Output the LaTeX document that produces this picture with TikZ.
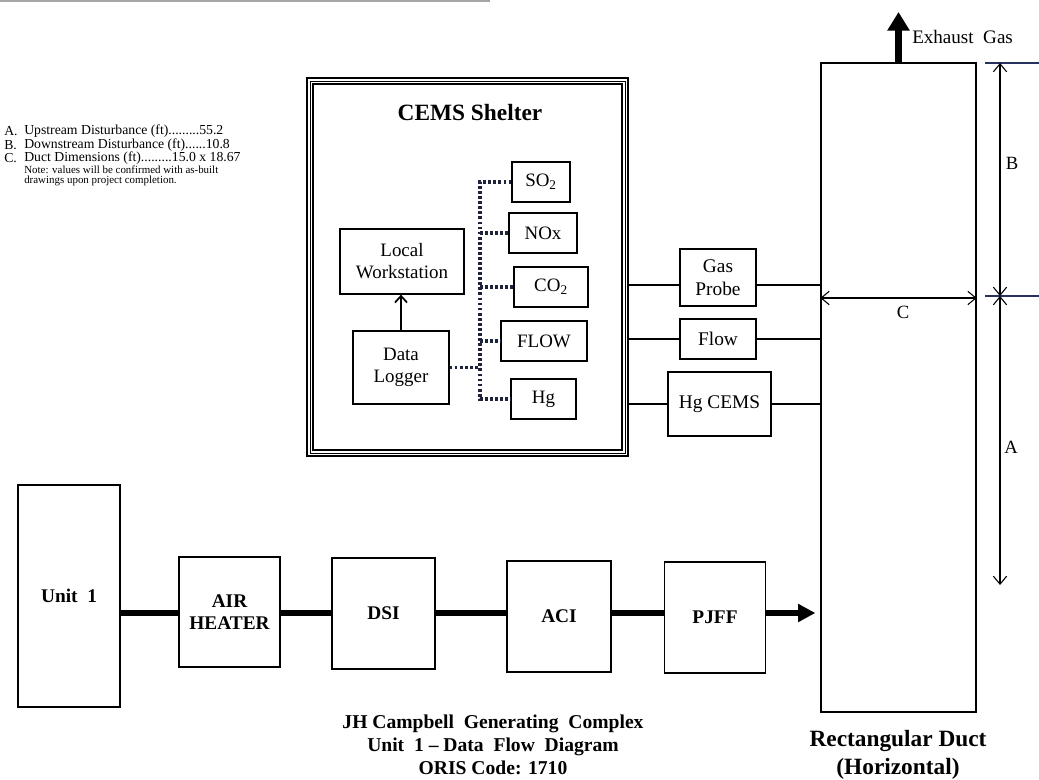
\documentclass[tikz,border=0pt]{standalone}
\usepackage{fontspec}
\setmainfont{Liberation Serif}
\usetikzlibrary{arrows.meta,calc}
\definecolor{dotcol}{RGB}{30,35,60}
\definecolor{tickcol}{RGB}{40,50,95}
\begin{document}
\begin{tikzpicture}[x=0.75pt,y=-0.75pt,
 wh/.style 2 args={minimum width=#1*0.75pt, minimum height=#2*0.75pt},
 box/.style={draw, line width=0.9pt, inner sep=0pt, align=center, font=\fontsize{14.2}{16.5}\selectfont},
 bbox/.style={box, font=\bfseries\fontsize{14.5}{17}\selectfont},
 probe/.style={box, font=\fontsize{14.5}{17}\selectfont},
 conn/.style={line width=0.9pt},
 thickline/.style={line width=5.2pt},
 dots/.style={line width=2.3pt, dash pattern=on 2.1pt off 1.7pt, color=dotcol},
 dim/.style={line width=0.8pt, {Straight Barb[length=6pt,width=10pt]}-{Straight Barb[length=6pt,width=10pt]}},
 tick/.style={line width=0.8pt, color=tickcol},
 note/.style={anchor=west, inner sep=0pt, font=\fontsize{10.3}{12}\selectfont},
 smallnote/.style={anchor=west, inner sep=0pt, font=\fontsize{8.2}{9.5}\selectfont},
 dimlab/.style={font=\fontsize{14}{16}\selectfont}
]
\useasboundingbox (0,0) rectangle (1039,780);

% top scan line
\coordinate (tl1) at (0,1);
\coordinate (tl2) at (490,1);
\draw[gray!70, line width=1.5pt] (tl1) -- (tl2);

% notes
\node[note] (nA) at (4,131) {A.};
\node[note] (nAt) at (24,131) {Upstream Disturbance (ft).........55.2};
\node[note] (nB) at (4,145) {B.};
\node[note] (nBt) at (24,145) {Downstream Disturbance (ft)......10.8};
\node[note] (nC) at (4,158) {C.};
\node[note] (nCt) at (24,158) {Duct Dimensions (ft).........15.0 x 18.67};
\node[smallnote] (n1) at (24,170) {Note: values will be confirmed with as-built};
\node[smallnote] (n2) at (24,181) {drawings upon project completion.};

% CEMS shelter
\node[draw, line width=1.6pt, wh={321}{378}] (sh) at (467.5,267) {};
\draw[line width=0.6pt] ($(sh.south west)+(4,-4)$) rectangle ($(sh.north east)+(-4,4)$);
\draw[line width=1pt] ($(sh.south west)+(7,-7)$) rectangle ($(sh.north east)+(-7,7)$);
\node[font=\bfseries\fontsize{17.5}{20}\selectfont] (title) at (470,113) {CEMS Shelter};

\node[box, wh={124}{65}] (lw) at (402,261.5) {Local\\Workstation};
\node[box, wh={96}{73}] (dl) at (401,367.5) {Data\\Logger};
\draw[line width=1.3pt, -{Straight Barb[length=5pt,width=9pt]}] (dl.north) -- (dl.north |- lw.south);

\node[box, wh={58}{40}] (so2) at (541,182) {SO\textsubscript{2}};
\node[box, wh={68}{40}] (nox) at (543,233) {NOx};
\node[box, wh={74}{40}] (co2) at (551,287) {CO\textsubscript{2}};
\node[box, wh={86}{40}] (flow) at (544,341) {FLOW};
\node[box, wh={65}{40}] (hg) at (543.5,399) {Hg};

\coordinate (bx) at (480,0);
\draw[dots] (so2.west) -- (so2.west -| bx) -- (hg.west -| bx) -- (hg.west);
\draw[dots] (nox.west -| bx) -- (nox.west);
\draw[dots] (co2.west -| bx) -- (co2.west);
\draw[dots] (flow.west -| bx) -- (flow.west);
\draw[dots] (dl.east) -- (dl.east -| bx);

% probes
\node[probe, wh={76}{57}] (gp) at (718,277.5) {Gas\\Probe};
\node[probe, wh={76}{40}] (fl) at (718,339) {Flow};
\node[probe, wh={103}{64}] (hgc) at (719.5,404) {Hg CEMS};

% duct
\node[draw, line width=1pt, wh={155}{649}] (duct) at (898.5,387.5) {};

\coordinate (gy) at (0,285);
\draw[conn] (sh.east |- gy) -- (gp.west |- gy);
\draw[conn] (gp.east |- gy) -- (duct.west |- gy);
\draw[conn] (sh.east |- fl) -- (fl.west);
\draw[conn] (fl.east) -- (fl.east -| duct.west);
\draw[conn] (sh.east |- hgc) -- (hgc.west);
\draw[conn] (hgc.east) -- (hgc.east -| duct.west);

% exhaust
\coordinate (ex) at (898.5,12);
\draw[line width=5.5pt, -{Triangle[length=14pt,width=16pt]}] (duct.north) -- (ex);
\node[anchor=west, inner sep=0pt, font=\fontsize{14.3}{16}\selectfont] (exl) at (912,37) {Exhaust\ \ Gas};

% dimensions
\coordinate (t1a) at (985,63);
\coordinate (t1b) at (1039,63);
\coordinate (t2a) at (985,296);
\coordinate (t2b) at (1039,296);
\draw[tick] (t1a) -- (t1b);
\draw[tick] (t2a) -- (t2b);
\coordinate (bTop) at (1000,63);
\coordinate (bMid) at (1000,296);
\coordinate (aBot) at (1000,585);
\draw[dim] (bTop) -- (bMid);
\draw[dim] (bMid) -- (aBot);
\coordinate (cy) at (0,298);
\draw[dim] (duct.west |- cy) -- (duct.east |- cy);
\node[dimlab] (lB) at (1012,163) {B};
\node[dimlab] (lA) at (1011,447) {A};
\node[dimlab] (lC) at (903,312) {C};

% bottom process row
\node[bbox, wh={102}{222}] (unit) at (69,596) {Unit\ \ 1};
\node[bbox, wh={101}{110}] (air) at (229.5,612) {AIR\\HEATER};
\node[bbox, wh={103}{111}] (dsi) at (383.5,613.5) {DSI};
\node[bbox, wh={104}{111}] (aci) at (559,616.5) {ACI};
\node[bbox, wh={101}{111}] (pjff) at (715,617.5) {PJFF};

\coordinate (ry) at (0,613);
\draw[thickline] (unit.east |- ry) -- (air.west |- ry);
\draw[thickline] (air.east |- ry) -- (dsi.west |- ry);
\draw[thickline] (dsi.east |- ry) -- (aci.west |- ry);
\draw[thickline] (aci.east |- ry) -- (pjff.west |- ry);
\draw[thickline, -{Triangle[length=13pt,width=13pt]}] (pjff.east |- ry) -- ($(duct.west |- ry)+(-5,0)$);

% captions
\node[align=center, font=\bfseries\fontsize{14.7}{17.3}\selectfont] (cap) at (493,745)
  {JH Campbell\ \ Generating\ \ Complex\\Unit\ \ 1 -- Data\ \ Flow\ \ Diagram\\ORIS Code: 1710};
\node[align=center, font=\bfseries\fontsize{17.5}{21}\selectfont] (dlab) at (898,755)
  {Rectangular Duct\\(Horizontal)};
\end{tikzpicture}
\end{document}
